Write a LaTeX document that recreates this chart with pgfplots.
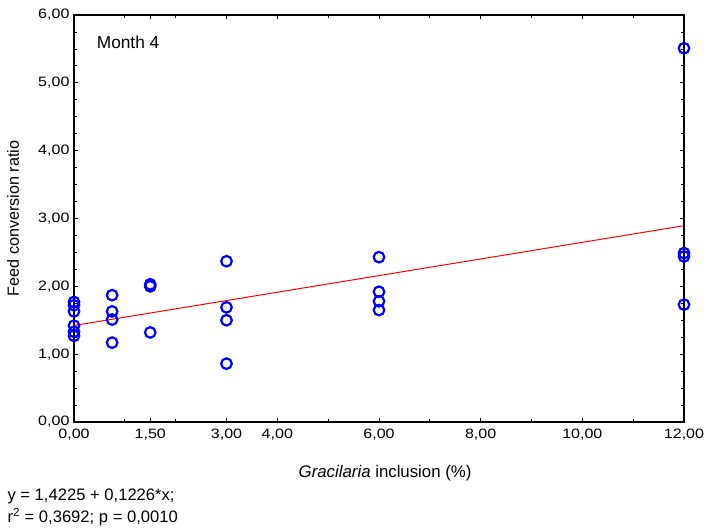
\documentclass[border=0pt]{standalone}
\usepackage{pgfplots}
\pgfplotsset{compat=1.18}
\usepackage{fontspec}
\setmainfont{Liberation Sans}
\newfontfamily\tickfont{Liberation Sans}[FakeStretch=1.18]

\pgfplotstableread{
x     y
0     1.77
0     1.72
0     1.63
0     1.42
0     1.33
0     1.27
0.75  1.87
0.75  1.63
0.75  1.51
0.75  1.17
1.5   2.03
1.5   2.00
1.5   1.32
3     2.37
3     1.69
3     1.50
3     0.86
6     2.43
6     1.92
6     1.78
6     1.65
12    5.51
12    2.49
12    2.44
12    1.73
}\fcrdata

\begin{document}
\begin{tikzpicture}[x=1pt,y=1pt]
\useasboundingbox (-74,-107) rectangle (633,422);
\begin{axis}[
  at={(0,0)}, anchor=south west,
  scale only axis,
  width=610pt, height=407pt,
  xmin=0, xmax=12, ymin=0, ymax=6,
  axis line style={black, line width=1.1pt},
  xtick={0,1.5,3,4,6,8,10,12},
  minor xtick={1,2,5,7,9,11},
  ytick={0,1,...,6},
  minor ytick={0.25,0.5,...,5.75},
  tick align=inside,
  tick style={black, line width=0.8pt},
  major tick length=4pt,
  minor tick length=3pt,
  tick label style={font=\tickfont\fontsize{13.6}{16}\selectfont},
  /pgf/number format/.cd, fixed, fixed zerofill, precision=2, use comma,
  assume math mode=true,
  /pgfplots/.cd,
  xticklabel style={yshift=-3pt},
  yticklabel style={xshift=-1pt},
  xlabel={\textit{Gracilaria} inclusion (\%)},
  xlabel style={font=\fontsize{16.8}{19}\selectfont, at={(rel axis cs:0.51,0)}, anchor=north, yshift=-40pt},
  ylabel={Feed conversion ratio},
  ylabel style={font=\fontsize{16.2}{19}\selectfont, at={(axis description cs:-0.1,0.5)}, anchor=center},
  clip=false,
]
\addplot[blue, only marks, mark=o, mark size=5.3pt, mark options={line width=2.2pt}] table[x=x,y=y]{\fcrdata};
\addplot[red, line width=1pt] coordinates {(0,1.4225) (12,2.8937)};
\node[anchor=west, font=\fontsize{17.3}{20}\selectfont] at (axis cs:0.38,5.6) {Month 4};
\end{axis}
\node[anchor=base west, font=\fontsize{16.6}{19}\selectfont] at (-70,-79) {y = 1,4225 + 0,1226*x;};
\node[anchor=base west, font=\fontsize{16.6}{19}\selectfont] at (-70,-101) {r\textsuperscript{2} = 0,3692; p = 0,0010};
\end{tikzpicture}
\end{document}
